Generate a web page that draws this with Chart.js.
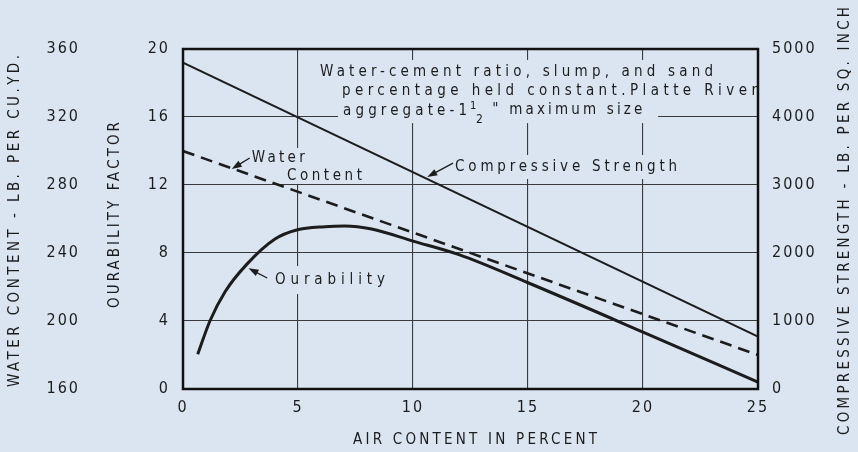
<!DOCTYPE html>
<html>
<head>
<meta charset="utf-8">
<script src="https://cdn.jsdelivr.net/npm/chart.js@4.4.0/dist/chart.umd.min.js"></script>
<style>
    html, body { margin: 0; padding: 0; background: #dbe5f2; }
    canvas { display: block; }
</style>
</head>
<body>
<canvas id="chart" width="858" height="452"></canvas>
<script>
// データ
const airTicks = [0, 5, 10, 15, 20, 25];
const durabilityTicks = [0, 4, 8, 12, 16, 20];
const waterTicks = [160, 200, 240, 280, 320, 360];
const strengthTicks = [0, 1000, 2000, 3000, 4000, 5000];

const strengthAir = [0, 25];
const strengthPsi = [4800, 770];

const waterAir = [0, 25];
const waterLb = [300, 180];

const durabilityAir = [0.64, 1.17, 1.83, 2.77, 4.0, 4.94, 6.17, 7.04, 8.2, 10, 12, 15, 20, 25];
const durabilityFactor = [2.04, 4.0, 5.72, 7.33, 8.82, 9.35, 9.55, 9.59, 9.41, 8.7, 7.9, 6.25, 3.35, 0.4];

const BG = '#dbe5f2';
const INK = '#1c1c1c';
const FONT = '"DejaVu Sans Condensed", "Liberation Sans Narrow", sans-serif';

const toPoints = (xs, ys) => xs.map((x, i) => ({ x: x, y: ys[i] }));
const useTicks = list => scale => { scale.ticks = list.map(v => ({ value: v })); };

// 文字間隔を幅に合わせて描く
function spacedText(ctx, text, x, y, width, font, align, angle) {
    ctx.save();
    ctx.font = font;
    ctx.letterSpacing = '0px';
    const w0 = ctx.measureText(text).width;
    const sp = text.length > 1 ? (width - w0) / (text.length - 1) : 0;
    ctx.letterSpacing = sp + 'px';
    ctx.translate(x, y);
    if (angle) ctx.rotate(angle);
    ctx.textBaseline = 'middle';
    ctx.textAlign = 'left';
    ctx.fillStyle = INK;
    ctx.fillText(text, align === 'center' ? -width / 2 : 0, 0);
    ctx.restore();
}

function mask(ctx, x, y, w, hh, area) {
    ctx.save();
    ctx.beginPath();
    ctx.rect(area.left + 2, area.top + 2, area.right - area.left - 4, area.bottom - area.top - 4);
    ctx.clip();
    ctx.fillStyle = BG;
    ctx.fillRect(x - 5, y - hh, w + 10, hh * 2);
    ctx.restore();
}

function arrow(ctx, x1, y1, x2, y2) {
    const a = Math.atan2(y2 - y1, x2 - x1);
    ctx.save();
    ctx.strokeStyle = INK;
    ctx.fillStyle = INK;
    ctx.lineWidth = 1.3;
    ctx.beginPath();
    ctx.moveTo(x1, y1);
    ctx.lineTo(x2 - 6 * Math.cos(a), y2 - 6 * Math.sin(a));
    ctx.stroke();
    ctx.beginPath();
    ctx.moveTo(x2, y2);
    ctx.lineTo(x2 - 10 * Math.cos(a) + 3.5 * Math.sin(a), y2 - 10 * Math.sin(a) - 3.5 * Math.cos(a));
    ctx.lineTo(x2 - 10 * Math.cos(a) - 3.5 * Math.sin(a), y2 - 10 * Math.sin(a) + 3.5 * Math.cos(a));
    ctx.closePath();
    ctx.fill();
    ctx.restore();
}

// 注記（データ座標で位置指定）
const noteFont = '15px ' + FONT;
const notes = [
    { text: 'Water-cement ratio, slump, and sand', x: 5.96, y: 18.65, w: 393, hh: 12 },
    { text: 'percentage held constant.Platte River', x: 6.91, y: 17.53, w: 415, hh: 12 },
    { text: 'aggregate-1', x: 6.96, y: 16.35, w: 124, hh: 12, maskW: 310 },
    { text: '" maximum size', x: 13.45, y: 16.4, w: 150, hh: 0 },
    { text: 'Compressive Strength', x: 11.83, y: 13.06, w: 222, hh: 12 },
    { text: 'Water', x: 2.99, y: 13.59, w: 53, hh: 10 },
    { text: 'Content', x: 4.52, y: 12.53, w: 75, hh: 8 },
    { text: 'Ourability', x: 4.0, y: 6.41, w: 110, hh: 14 }
];
const leaders = [
    [11.74, 13.29, 10.62, 12.47],
    [2.9, 13.59, 2.12, 12.94],
    [3.66, 6.53, 2.85, 7.1]
];

const decorPlugin = {
    id: 'decor',
    beforeDraw(chart) {
        chart.ctx.letterSpacing = '2px';
    },
    beforeDatasetsDraw(chart) {
        const ctx = chart.ctx, sx = chart.scales.x, sy = chart.scales.yDur, area = chart.chartArea;
        notes.forEach(n => {
            if (n.hh) mask(ctx, sx.getPixelForValue(n.x), sy.getPixelForValue(n.y), n.maskW || n.w, n.hh, area);
        });
    },
    afterDatasetsDraw(chart) {
        const ctx = chart.ctx, sx = chart.scales.x, sy = chart.scales.yDur, area = chart.chartArea;
        notes.forEach(n => {
            spacedText(ctx, n.text, sx.getPixelForValue(n.x), sy.getPixelForValue(n.y), n.w, noteFont, 'left');
        });
        // 1 1/2 の分数
        const fx = sx.getPixelForValue(6.96) + 127;
        const fy = sy.getPixelForValue(16.35);
        spacedText(ctx, '1', fx, fy - 5, 4, '11px ' + FONT, 'left');
        spacedText(ctx, '2', fx + 6, fy + 9, 4, '12px ' + FONT, 'left');
        leaders.forEach(l => arrow(ctx, sx.getPixelForValue(l[0]), sy.getPixelForValue(l[1]),
            sx.getPixelForValue(l[2]), sy.getPixelForValue(l[3])));
        // 枠
        ctx.save();
        ctx.strokeStyle = '#111';
        ctx.lineWidth = 2.5;
        ctx.strokeRect(area.left, area.top, area.right - area.left, area.bottom - area.top);
        ctx.restore();
    },
    afterDraw(chart) {
        const ctx = chart.ctx;
        const tf = '15px ' + FONT;
        spacedText(ctx, 'WATER CONTENT - LB. PER CU.YD.', 15, 221, 332, tf, 'center', -Math.PI / 2);
        spacedText(ctx, 'OURABILITY FACTOR', 115, 215, 186, tf, 'center', -Math.PI / 2);
        spacedText(ctx, 'COMPRESSIVE STRENGTH - LB. PER SQ. INCH', 845, 221, 428, tf, 'center', -Math.PI / 2);
        spacedText(ctx, 'AIR CONTENT IN PERCENT', 475, 440, 244, tf, 'center');
    }
};

const tickFont = { family: FONT, size: 16 };
const gridStyle = { color: '#3a3a3a', lineWidth: 1.1, drawTicks: false };
const plain = v => String(v);

new Chart(document.getElementById('chart'), {
    type: 'line',
    data: {
        datasets: [
            {
                label: 'Compressive Strength',
                data: toPoints(strengthAir, strengthPsi),
                yAxisID: 'yStr',
                borderColor: INK,
                borderWidth: 2,
                pointRadius: 0
            },
            {
                label: 'Water Content',
                data: toPoints(waterAir, waterLb),
                yAxisID: 'yWat',
                borderColor: INK,
                borderWidth: 2.6,
                borderDash: [12, 7],
                pointRadius: 0
            },
            {
                label: 'Ourability',
                data: toPoints(durabilityAir, durabilityFactor),
                yAxisID: 'yDur',
                borderColor: INK,
                borderWidth: 3,
                cubicInterpolationMode: 'monotone',
                pointRadius: 0
            }
        ]
    },
    options: {
        responsive: false,
        animation: false,
        layout: { padding: { top: 49 } },
        plugins: { legend: { display: false }, tooltip: { enabled: false } },
        scales: {
            x: {
                type: 'linear',
                min: 0,
                max: 25,
                afterBuildTicks: useTicks(airTicks),
                afterFit: s => { s.height = 63; },
                grid: gridStyle,
                border: { display: false },
                ticks: { font: tickFont, color: INK, padding: 9, maxRotation: 0, callback: plain }
            },
            yWat: {
                position: 'left',
                weight: 2,
                min: 160,
                max: 360,
                afterBuildTicks: useTicks(waterTicks),
                afterFit: s => { s.width = 81; },
                grid: { display: false, drawTicks: false },
                border: { display: false },
                ticks: { font: tickFont, color: INK, padding: 1, callback: plain }
            },
            yDur: {
                position: 'left',
                weight: 1,
                min: 0,
                max: 20,
                afterBuildTicks: useTicks(durabilityTicks),
                afterFit: s => { s.width = 102; },
                grid: gridStyle,
                border: { display: false },
                ticks: { font: tickFont, color: INK, padding: 13, callback: plain }
            },
            yStr: {
                position: 'right',
                min: 0,
                max: 5000,
                afterBuildTicks: useTicks(strengthTicks),
                afterFit: s => { s.width = 100; },
                grid: { display: false, drawTicks: false },
                border: { display: false },
                ticks: { font: tickFont, color: INK, padding: 14, callback: plain }
            }
        }
    },
    plugins: [decorPlugin]
});
</script>
</body>
</html>
